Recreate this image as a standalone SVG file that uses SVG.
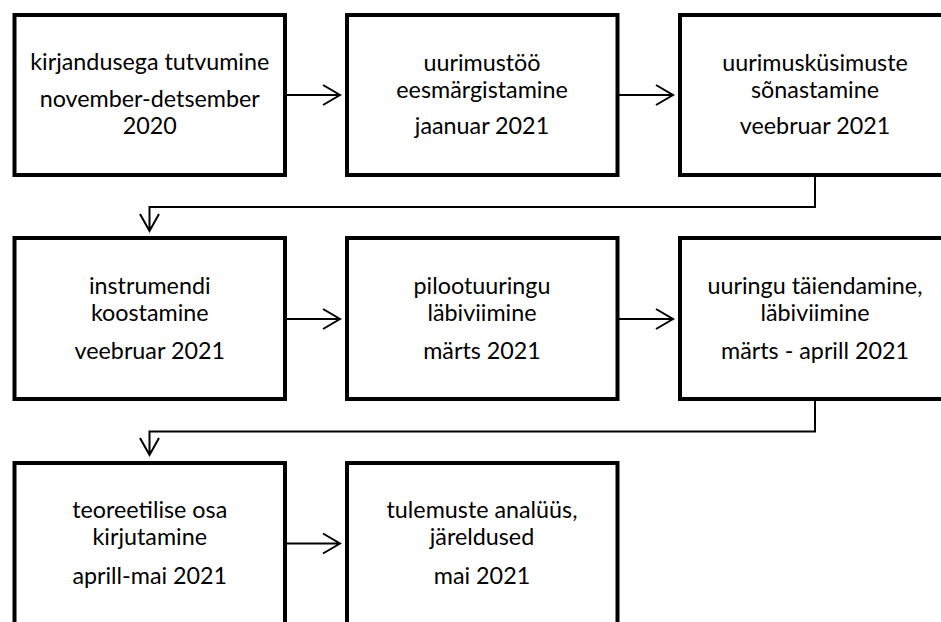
<svg xmlns="http://www.w3.org/2000/svg" width="941" height="622" viewBox="0 0 941 622">
<defs>
<style>
.box{fill:#fff;stroke:#000;stroke-width:4;stroke-linejoin:miter}
.t{font-family:Lato,"Liberation Sans",sans-serif;font-size:23.3px;fill:#000;text-anchor:middle}
.c{fill:none;stroke:#000;stroke-width:2}
</style>
</defs>
<rect width="941" height="622" fill="#fff"/>
<g id="connectors">
<path class="c" d="M287,95H340M323,85L340,95L323,105"/>
<path class="c" d="M619,95H673M656,85L673,95L656,105"/>
<path class="c" d="M287,319H340M323,309L340,319L323,329"/>
<path class="c" d="M619,319H673M656,309L673,319L656,329"/>
<path class="c" d="M287,543.5H340M323,533.5L340,543.5L323,553.5"/>
<path class="c" d="M815,177V207H149.5V231M140,214L149.5,231L159,214"/>
<path class="c" d="M815,401V431.5H149.5V455M140,438L149.5,455L159,438"/>
</g>
<g id="n1"><rect class="box" x="14.5" y="15" width="270.5" height="160"/>
<text class="t" x="149.75" y="69.5">kirjandusega tutvumine</text>
<text class="t" x="149.75" y="107">november-detsember</text>
<text class="t" x="149.75" y="134">2020</text></g>
<g id="n2"><rect class="box" x="347" y="15" width="270.5" height="160"/>
<text class="t" x="482" y="70.5">uurimustöö</text>
<text class="t" x="482" y="97.5">eesmärgistamine</text>
<text class="t" x="482" y="134">jaanuar 2021</text></g>
<g id="n3"><rect class="box" x="680" y="15" width="270.5" height="160"/>
<text class="t" x="815" y="70.5">uurimusküsimuste</text>
<text class="t" x="815" y="97.5">sõnastamine</text>
<text class="t" x="815" y="134">veebruar 2021</text></g>
<g id="n4"><rect class="box" x="14.5" y="238" width="270.5" height="161"/>
<text class="t" x="149.75" y="293.5">instrumendi</text>
<text class="t" x="149.75" y="321">koostamine</text>
<text class="t" x="149.75" y="358.5">veebruar 2021</text></g>
<g id="n5"><rect class="box" x="347" y="238" width="270.5" height="161"/>
<text class="t" x="482" y="293.5">pilootuuringu</text>
<text class="t" x="482" y="321">läbiviimine</text>
<text class="t" x="482" y="358.5">märts 2021</text></g>
<g id="n6"><rect class="box" x="680" y="238" width="270.5" height="161"/>
<text class="t" x="815" y="293.5">uuringu täiendamine,</text>
<text class="t" x="815" y="321">läbiviimine</text>
<text class="t" x="815" y="358.5">märts - aprill 2021</text></g>
<g id="n7"><rect class="box" x="14.5" y="463" width="270.5" height="161"/>
<text class="t" x="149.75" y="518">teoreetilise osa</text>
<text class="t" x="149.75" y="545">kirjutamine</text>
<text class="t" x="149.75" y="583.5">aprill-mai 2021</text></g>
<g id="n8"><rect class="box" x="347" y="463" width="270.5" height="161"/>
<text class="t" x="482" y="518">tulemuste analüüs,</text>
<text class="t" x="482" y="545">järeldused</text>
<text class="t" x="482" y="583.5">mai 2021</text></g>
</svg>
